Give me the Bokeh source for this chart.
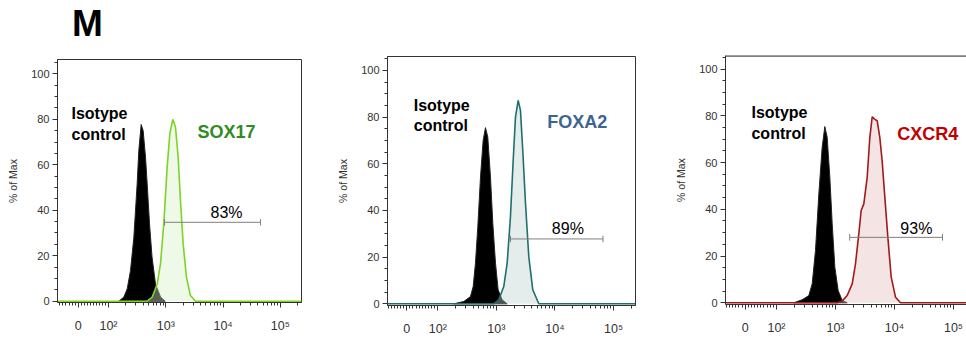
import numpy as np
from bokeh.plotting import figure
from bokeh.models import FixedTicker, Span, Div
from bokeh.layouts import row, column
from bokeh.core.properties import value
from bokeh.embed import file_html
from bokeh.resources import INLINE

# ---------------- data (x in display decades: log10 intensity above 10^2, linear near 0) ----------------
x_tick_values = [0, 100, 1000, 10000, 100000]
x_tick_labels = ["0", "10\u00b2", "10\u00b3", "10\u2074", "10\u2075"]
y_ticks = [0, 20, 40, 60, 80, 100]

# Panel 1 : SOX17
iso1_x = [2.18, 2.267, 2.326, 2.384, 2.442, 2.50, 2.529, 2.57, 2.605, 2.646, 2.675, 2.716, 2.76, 2.82, 2.91, 2.99]
iso1_y = [0, 1.8, 5.4, 13.5, 28, 51.6, 66.3, 77.7, 75, 63.3, 51.6, 34, 19.4, 7.6, 1.8, 0]
sox17_x = [2.675, 2.763, 2.85, 2.907, 2.965, 3.024, 3.07, 3.122, 3.169, 3.216, 3.256, 3.303, 3.36, 3.43, 3.52]
sox17_y = [0, 1.8, 7.6, 16.4, 34, 59, 73.6, 80, 76.5, 63.3, 44.3, 25.2, 10.6, 2.5, 0]
gate1 = (950, 45000, 34.7, "83%")

# Panel 2 : FOXA2
iso2_x = [2.273, 2.444, 2.558, 2.604, 2.643, 2.683, 2.729, 2.774, 2.814, 2.853, 2.899, 2.939, 2.985, 3.03, 3.099, 3.184]
iso2_y = [0, 1, 3.1, 7.4, 17.4, 33, 54.4, 70, 75.5, 71.5, 54.4, 34.5, 17.4, 6, 1.7, 0]
foxa2_x = [2.956, 3.041, 3.126, 3.184, 3.24, 3.287, 3.326, 3.372, 3.411, 3.45, 3.497, 3.553, 3.621, 3.724]
foxa2_y = [0, 1.7, 7.4, 17.4, 37.3, 61.5, 80, 87.2, 82.9, 65.8, 43, 20.2, 6, 0]
gate2 = (1740, 66000, 27.8, "89%")

# Panel 3 : CXCR4
iso3_x = [2.294, 2.435, 2.548, 2.605, 2.661, 2.718, 2.774, 2.819, 2.859, 2.904, 2.944, 2.989, 3.045, 3.113, 3.198]
iso3_y = [0, 1.3, 3.1, 8.1, 22.4, 46.6, 66.5, 75.4, 70.8, 53.7, 33.8, 15.2, 5.3, 1, 0]
cxcr4_x = [3.028, 3.113, 3.198, 3.283, 3.339, 3.395, 3.435, 3.48, 3.537, 3.582, 3.622, 3.661, 3.706,
           3.751, 3.79, 3.836, 3.887, 3.944, 4.017, 4.102]
cxcr4_y = [0, 0.7, 3.1, 8.1, 16.7, 29.5, 39.5, 42.3, 53.7, 70.8, 79.6, 78.6, 77.9, 70.8, 60.8, 45.2,
           28.1, 11, 2.4, 0]
gate3 = (1740, 65000, 28.0, "93%")

U0 = 1.47  # display position of 0


def to_disp(v):
    """logicle-like transform: linear around zero up to 100, log10 above."""
    v = np.asarray(v, dtype=float)
    lin = U0 + v / 100.0 * (2 - U0)
    lg = np.log10(np.maximum(v, 1e-9))
    return np.where(v <= 100, lin, lg)


FONT = "Liberation Sans"
AXC = "#333333"
TXT_DY = -5
HEAD = 45          # height of the heading strip holding "M"
FIG_H = 338 - HEAD


def make_panel(width, bl, br, bt, bb, xr, yr, iso_x, iso_y, st_x, st_y, line_c, fill_c, name,
               name_c, iso_pos, name_pos, gate, pct_pos, outline=True):
    p = figure(width=width, height=FIG_H, output_backend="svg", toolbar_location=None,
               x_range=xr, y_range=yr, min_border_left=bl, min_border_right=br,
               min_border_top=bt - HEAD, min_border_bottom=bb, frame_align=False)
    p.grid.visible = False
    p.background_fill_color = "white"
    p.border_fill_color = "white"
    p.outline_line_color = AXC if outline else None
    p.outline_line_width = 1

    # x axis
    major = [float(t) for t in to_disp(x_tick_values)]
    minor_vals = [v for v in range(-70, 100, 10) if v != 0]
    for d in (2, 3, 4, 5):
        minor_vals += [k * 10 ** d for k in range(2, 10)]
    minor = [float(t) for t in to_disp(minor_vals)]
    p.xaxis.ticker = FixedTicker(ticks=major, minor_ticks=minor)
    p.xaxis.major_label_overrides = {m: lab for m, lab in zip(major, x_tick_labels)}
    p.yaxis.ticker = FixedTicker(ticks=y_ticks, minor_ticks=list(range(0, 110, 5)))
    for ax in (p.xaxis[0], p.yaxis[0]):
        ax.axis_line_color = AXC
        ax.major_tick_line_color = AXC
        ax.minor_tick_line_color = AXC
        ax.major_tick_in = 0
        ax.minor_tick_in = 0
        ax.major_tick_out = 5
        ax.minor_tick_out = 3
        ax.major_label_text_font = FONT
        ax.major_label_text_color = "#333333"
        ax.major_label_text_font_size = "11px"
    p.xaxis.major_label_standoff = 11
    p.xaxis.major_label_text_font_size = "12.5px"
    p.yaxis.major_label_standoff = 3
    p.yaxis.axis_label = "% of Max"
    p.yaxis.axis_label_text_font = FONT
    p.yaxis.axis_label_text_font_size = "10.5px"
    p.yaxis.axis_label_text_font_style = "normal"
    p.yaxis.axis_label_text_color = "#333333"
    p.yaxis.axis_label_standoff = 9

    x0, x1 = xr
    # isotype (black filled)
    p.patch(iso_x, iso_y, fill_color="black", line_color="#222222", line_width=1)
    # stained sample
    p.patch(st_x, st_y, fill_color=fill_c, fill_alpha=0.4, line_color=None)
    lx = [x0] + list(st_x) + [x1]
    ly = [0] + list(st_y) + [0]
    p.line(lx, ly, line_color=line_c, line_width=1.6)

    # labels
    ix, iy1, iy2 = iso_pos
    p.text([ix], [iy1], text=["Isotype"], text_font=value(FONT), text_font_style="bold",
           text_font_size="16px", text_color="black", text_baseline="alphabetic", y_offset=TXT_DY)
    p.text([ix], [iy2], text=["control"], text_font=value(FONT), text_font_style="bold",
           text_font_size="16px", text_color="black", text_baseline="alphabetic", y_offset=TXT_DY)
    nx, ny = name_pos
    p.text([nx], [ny], text=[name], text_font=value(FONT), text_font_style="bold",
           text_font_size="18px", text_color=name_c, text_baseline="alphabetic", y_offset=TXT_DY)

    # gate
    g0, g1, gy, gtxt = gate
    gx = [float(t) for t in to_disp([g0, g1])]
    cap = 1.4
    p.segment(x0=[gx[0]], y0=[gy], x1=[gx[1]], y1=[gy], line_color="#7f7f7f", line_width=1)
    p.segment(x0=gx, y0=[gy - cap] * 2, x1=gx, y1=[gy + cap] * 2, line_color="#7f7f7f", line_width=1)
    px_, py_ = pct_pos
    p.text([px_], [py_], text=[gtxt], text_font=value(FONT), text_font_size="16px",
           text_color="black", text_align="center", text_baseline="alphabetic", y_offset=TXT_DY)
    if not outline:
        p.add_layout(Span(location=yr[1] - 0.2, dimension="width", line_color="black", line_width=1.2))
    return p


p1 = make_panel(330, 57, 29, 59, 36, (1.11, 5.368), (-0.57, 106.3),
                iso1_x, iso1_y, sox17_x, sox17_y, "#7cd424", "#d5f0c3", "SOX17", "#2f8c22",
                (1.354, 80.3, 71.1), (3.553, 72.0), gate1, (4.06, 36.8))

p2 = make_panel(330, 57, 25, 56, 32, (1.142, 5.374), (-0.73, 106.0),
                iso2_x, iso2_y, foxa2_x, foxa2_y, "#1f6f6f", "#bbcfcf", "FOXA2", "#3d6592",
                (1.59, 82.9, 74.4), (3.867, 75.8), gate2, (4.22, 30.3))

p3 = make_panel(306, 65, 0, 55, 34, (1.136, 5.22), (-0.73, 105.8),
                iso3_x, iso3_y, cxcr4_x, cxcr4_y, "#a01a1a", "#e6bcbc", "CXCR4", "#c00000",
                (1.576, 79.3, 70.5), (4.045, 70.1), gate3, (4.37, 29.6), outline=False)

heading = Div(
    text=("<div style=\"font-family:'Liberation Sans',Arial,sans-serif;font-weight:bold;"
          "font-size:37px;line-height:37px;color:#000;padding:5px 0 0 72px;margin:0;\">M</div>"),
    width=966, height=HEAD, margin=0)

layout = column(heading, row(p1, p2, p3))
open("out.html", "w").write(file_html(layout, INLINE))
